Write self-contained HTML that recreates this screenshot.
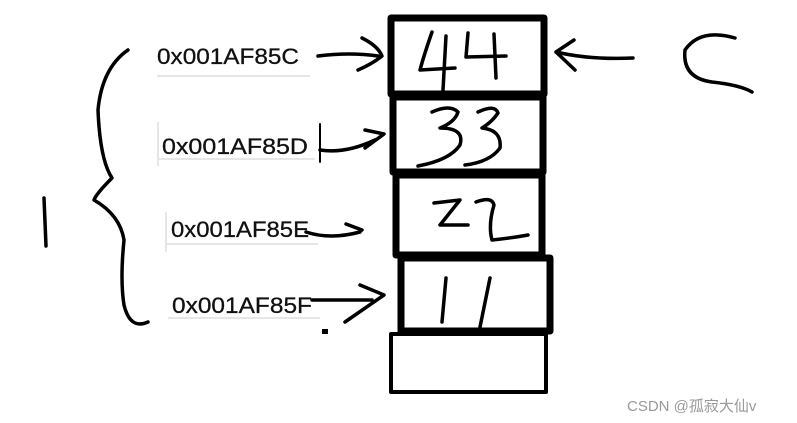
<!DOCTYPE html>
<html><head><style>body{margin:0;background:#fff}svg{display:block}
.t{font-family:"Liberation Sans",sans-serif;font-size:22px;fill:#111;stroke:#111;stroke-width:0.3}</style></head><body>
<svg width="797" height="423" viewBox="0 0 797 423" xmlns="http://www.w3.org/2000/svg">
<g fill="none" stroke="#000" stroke-linecap="round" stroke-linejoin="round">
<rect x="391" y="18" width="153" height="76" stroke-width="7"/>
<rect x="393" y="97" width="150" height="75" stroke-width="7"/>
<rect x="396" y="175" width="146" height="80" stroke-width="7"/>
<rect x="401" y="258" width="149" height="73" stroke-width="7"/>
<rect x="391" y="334" width="155" height="58" stroke-width="4"/>
<g stroke-width="3.5">
<path d="M432 32 Q424 55 420 70 L455 68 M446 36 L443 90"/>
<path d="M468 33 L466 57 L506 56 M494 34 L496 78"/>
<path d="M432 112 Q450 104 458 112 Q455 122 440 128 Q465 128 460 145 Q450 160 418 166"/>
<path d="M478 112 Q495 104 498 113 Q492 122 482 128 Q502 130 500 148 Q490 162 465 165"/>
<path d="M434 203 L460 200 L440 225 L468 225"/>
<path d="M476 202 Q492 196 494 205 Q488 225 492 240 Q512 238 528 235"/>
<path d="M446 278 L442 322 M490 278 L480 327"/>
</g>
<g stroke-width="3.5">
<path d="M318 56 Q350 52 378 56 M362 38 Q378 46 382 56 Q372 64 358 70"/>
<path d="M320 150 Q345 154 375 140 M365 130 L384 134 L365 148"/>
<path d="M306 232 Q330 240 360 232 M346 224 L362 230"/>
<path d="M312 300 L372 300 M360 285 L384 295 L345 322"/>
<path d="M556 52 Q590 60 633 58 M574 40 L556 52 L575 70"/>
<path d="M735 38 Q700 28 685 50 Q682 78 712 82 Q740 85 752 92"/>
<path d="M128 50 Q102 68 98 110 Q100 160 112 178 Q96 194 94 200 Q120 215 124 240 Q120 280 124 305 Q130 330 148 322"/>
<path d="M44 198 L46 246"/>
</g>
<path d="M320 124 L320 162" stroke-width="2"/>
</g>
<g stroke="#e6e6e6" stroke-width="2">
<line x1="157" y1="76" x2="310" y2="76"/>
<line x1="158" y1="159" x2="315" y2="159"/>
<line x1="166" y1="244" x2="318" y2="244"/>
<line x1="168" y1="318" x2="320" y2="318"/>
<line x1="158" y1="122" x2="158" y2="166"/>
<line x1="166" y1="212" x2="166" y2="252"/>
</g>
<rect x="322" y="329" width="6" height="5" fill="#000"/>
<text class="t" x="157" y="64" textLength="142" lengthAdjust="spacingAndGlyphs">0x001AF85C</text>
<text class="t" x="162" y="154" textLength="146" lengthAdjust="spacingAndGlyphs">0x001AF85D</text>
<text class="t" x="171" y="237" textLength="138" lengthAdjust="spacingAndGlyphs">0x001AF85E</text>
<text class="t" x="172" y="313" textLength="140" lengthAdjust="spacingAndGlyphs">0x001AF85F</text>
<text x="627" y="411" font-family="'Liberation Sans','Noto Sans CJK SC',sans-serif" font-size="15" fill="#999">CSDN @孤寂大仙v</text>
</svg>
</body></html>
